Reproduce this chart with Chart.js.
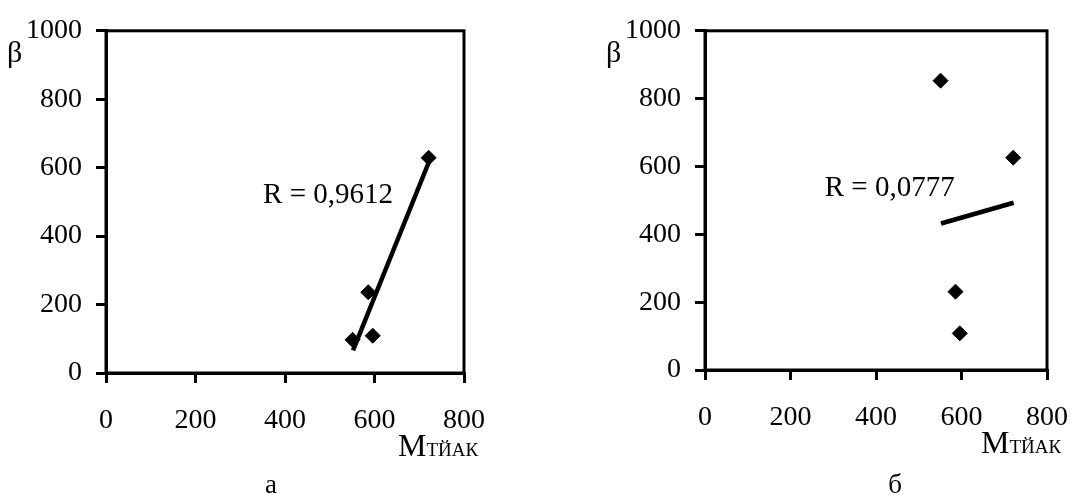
<!DOCTYPE html>
<html>
<head>
<meta charset="utf-8">
<script src="https://cdn.jsdelivr.net/npm/chart.js@4/dist/chart.umd.min.js"></script>
<style>
  body { margin: 0; background: #fff; }
  canvas { position: absolute; top: 0; }
  #grafA { left: 0; }
  #grafB { left: 545px; }
</style>
</head>
<body>
<canvas id="grafA" width="545" height="495"></canvas>
<canvas id="grafB" width="544" height="495"></canvas>
<script>
// datos
const mTiak = [551, 586, 596, 721]
const betaA = [97, 236, 109, 629]
const betaB = [853, 231, 108, 626]

// lineas de tendencia (extremos)
const trendX = [552, 722]
const trendYA = [66, 618]
const trendYB = [432, 493]

const xTicks = [0, 200, 400, 600, 800]
const yTicks = [0, 200, 400, 600, 800, 1000]

const serif = "'Liberation Serif', 'Times New Roman', serif"

const etiquetas = {
  id: 'etiquetas',
  afterDraw(chart, args, opts) {
    const ctx = chart.ctx
    const a = chart.chartArea
    const sx = chart.scales.x
    const sy = chart.scales.y
    ctx.save()
    // marco
    ctx.strokeStyle = '#000'
    ctx.lineWidth = 3
    ctx.strokeRect(a.left, a.top, a.right - a.left, a.bottom - a.top)

    ctx.fillStyle = '#000'
    ctx.textBaseline = 'alphabetic'
    ctx.textAlign = 'left'

    // R = ...
    ctx.font = '29px ' + serif
    ctx.fillText(opts.rTexto, sx.getPixelForValue(opts.rX), sy.getPixelForValue(opts.rY))

    // beta
    ctx.font = '30px ' + serif
    ctx.fillText('β', a.left - 99, 62)

    // M con subindice
    ctx.font = '32px ' + serif
    const mx = a.right - 66
    const my = a.bottom + 83
    ctx.fillText('M', mx, my)
    const w = ctx.measureText('M').width
    ctx.font = '19px ' + serif
    ctx.fillText('ТЙАК', mx + w, my)

    // leyenda inferior
    ctx.font = '27px ' + serif
    ctx.textAlign = 'center'
    ctx.fillText(opts.letra, opts.letraX, 493)
    ctx.restore()
  }
}

const graficoDispersion = (idGrafico, betas, trendY, opts) => {
  const puntos = mTiak.map((m, i) => ({ x: m, y: betas[i] }))
  const tendencia = trendX.map((m, i) => ({ x: m, y: trendY[i] }))

  const data = {
    datasets: [
      {
        type: 'line',
        data: tendencia,
        borderColor: '#000',
        borderWidth: 4.5,
        pointRadius: 0,
        fill: false
      },
      {
        type: 'scatter',
        data: puntos,
        pointStyle: 'rectRot',
        pointRadius: 7.5,
        backgroundColor: '#000',
        borderColor: '#000',
        borderWidth: 1
      }
    ]
  }

  const eje = {
    type: 'linear',
    grid: { drawOnChartArea: false, color: '#000', lineWidth: 3, tickLength: 10 },
    border: { display: true, color: '#000', width: 3 },
  }

  const config = {
    type: 'scatter',
    data: data,
    options: {
      responsive: false,
      animation: false,
      devicePixelRatio: 1,
      layout: { padding: { left: 0, top: 23, right: opts.derecha, bottom: 0 } },
      plugins: {
        legend: { display: false },
        tooltip: { enabled: false },
        etiquetas: opts
      },
      scales: {
        x: {
          ...eje,
          min: 0, max: 800,
          afterBuildTicks: (s) => { s.ticks = xTicks.map(v => ({ value: v })) },
          ticks: { color: '#000', padding: 21, font: { family: serif, size: 28 }, maxRotation: 0,
                   callback: (v) => String(v) },
          afterFit: (s) => { s.height = opts.altoX }
        },
        y: {
          ...eje,
          min: 0, max: 1000,
          afterBuildTicks: (s) => { s.ticks = yTicks.map(v => ({ value: v })) },
          ticks: { color: '#000', padding: 14, font: { family: serif, size: 28 },
                   callback: (v) => String(v) },
          afterFit: (s) => { s.width = opts.anchoY }
        }
      }
    },
    plugins: [etiquetas]
  }
  return new Chart(document.getElementById(idGrafico), config)
}

graficoDispersion('grafA', betaA, trendYA, {
  rTexto: 'R = 0,9612', rX: 351, rY: 496,
  letra: 'а', letraX: 271,
  anchoY: 106, altoX: 122, derecha: 81
})

graficoDispersion('grafB', betaB, trendYB, {
  rTexto: 'R = 0,0777', rX: 280, rY: 512,
  letra: 'б', letraX: 350,
  anchoY: 160, altoX: 125, derecha: 26
})
</script>
</body>
</html>
